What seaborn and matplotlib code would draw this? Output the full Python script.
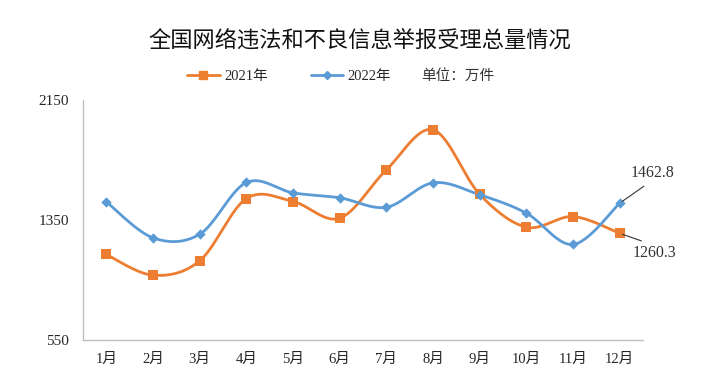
import numpy as np
import pandas as pd
import matplotlib
matplotlib.use('Agg')
import matplotlib.pyplot as plt
from matplotlib.lines import Line2D
import seaborn as sns

# data (万件)
months = ['1月', '2月', '3月', '4月', '5月', '6月', '7月', '8月', '9月', '10月', '11月', '12月']
v2021 = [1120, 982, 1078, 1493, 1473, 1362, 1685, 1951, 1520, 1302, 1373, 1260.3]
v2022 = [1471, 1231, 1255, 1600, 1531, 1498, 1435, 1598, 1518, 1395, 1187, 1462.8]
yticks = [550, 1350, 2150]

c2021 = '#ED7D31'
c2022 = '#5B9BD5'

sns.set_style('white')
plt.rcParams['font.family'] = ['Liberation Serif', 'Noto Sans CJK SC']


def smooth(y, n=30):
    # Excel-like smoothed line: cubic bezier with catmull-rom control points
    y = np.asarray(y, dtype=float)
    x = np.arange(len(y), dtype=float)
    pts = np.column_stack([x, y])
    out = []
    for i in range(len(pts) - 1):
        p0 = pts[max(i - 1, 0)]
        p1 = pts[i]
        p2 = pts[i + 1]
        p3 = pts[min(i + 2, len(pts) - 1)]
        c1 = p1 + (p2 - p0) / 6
        c2 = p2 - (p3 - p1) / 6
        t = np.linspace(0, 1, n)[:, None]
        seg = (1 - t) ** 3 * p1 + 3 * (1 - t) ** 2 * t * c1 + 3 * (1 - t) * t ** 2 * c2 + t ** 3 * p2
        out.append(seg if i == 0 else seg[1:])
    out = np.vstack(out)
    return out[:, 0], out[:, 1]


df = pd.DataFrame({'x': np.arange(len(months)), '2021年': v2021, '2022年': v2022})

fig = plt.figure(figsize=(7.06, 3.81), dpi=100)
ax = fig.add_axes([0.1176, 0.1076, 0.7934, 0.63])

sx, sy = smooth(v2021)
ax.plot(sx, sy, color=c2021, lw=2, zorder=2)
sx, sy = smooth(v2022)
ax.plot(sx, sy, color=c2022, lw=2, zorder=2)

sns.scatterplot(data=df, x='x', y='2021年', ax=ax, marker='s', s=45, color=c2021,
                edgecolor=c2021, linewidth=0, zorder=3, legend=False)
sns.scatterplot(data=df, x='x', y='2022年', ax=ax, marker='D', s=28, color=c2022,
                edgecolor=c2022, linewidth=0, zorder=3, legend=False)

ax.set_xlim(-0.5, len(months) - 0.5)
ax.set_ylim(yticks[0], yticks[-1])
ax.set_yticks(yticks)
ax.set_yticklabels([str(v) for v in yticks], fontsize=11)
ax.set_xticks(np.arange(len(months)))
ax.set_xticklabels(months, fontsize=10.5)
ax.set_xticks(np.arange(len(months) + 1) - 0.5, minor=True)
ax.tick_params(axis='x', which='major', length=0, pad=9)
ax.tick_params(axis='x', which='minor', length=5, color='#BFBFBF', direction='out')
ax.tick_params(axis='y', length=0, pad=10)
ax.set_xlabel('')
ax.set_ylabel('')
for s in ['top', 'right']:
    ax.spines[s].set_visible(False)
for s in ['left', 'bottom']:
    ax.spines[s].set_color('#BFBFBF')
    ax.spines[s].set_linewidth(1)

# end-point labels
ax.annotate(f'{v2022[-1]}', xy=(11, v2022[-1]), xytext=(11.69, 1613),
            fontsize=11.5, color='#333333', ha='center', va='bottom',
            arrowprops=dict(arrowstyle='-', color='#333333', lw=0.8,
                            shrinkA=3, shrinkB=2, relpos=(0.5, 0)))
ax.annotate(f'{v2021[-1]}', xy=(11, v2021[-1]), xytext=(11.75, 1180),
            fontsize=11.5, color='#333333', ha='center', va='top',
            arrowprops=dict(arrowstyle='-', color='#333333', lw=0.8,
                            shrinkA=3, shrinkB=2, relpos=(0.5, 1)))

fig.text(0.51, 0.895, '全国网络违法和不良信息举报受理总量情况', ha='center', va='center',
         fontsize=16, family=['Noto Sans CJK SC'], color='#111111')

handles = [Line2D([], [], color=c2021, lw=2, marker='s', ms=6),
           Line2D([], [], color=c2022, lw=2, marker='D', ms=4.5)]
fig.legend(handles, ['2021年', '2022年'], loc='center', bbox_to_anchor=(0.41, 0.8),
           ncol=2, frameon=False, fontsize=10.5, handlelength=2.2, columnspacing=3.0,
           handletextpad=0.3)
fig.text(0.597, 0.8, '单位：万件', ha='left', va='center', fontsize=10.5,
         family=['Noto Sans CJK SC'], color='#333333')

fig.savefig('out.png', dpi=100, facecolor='white')
